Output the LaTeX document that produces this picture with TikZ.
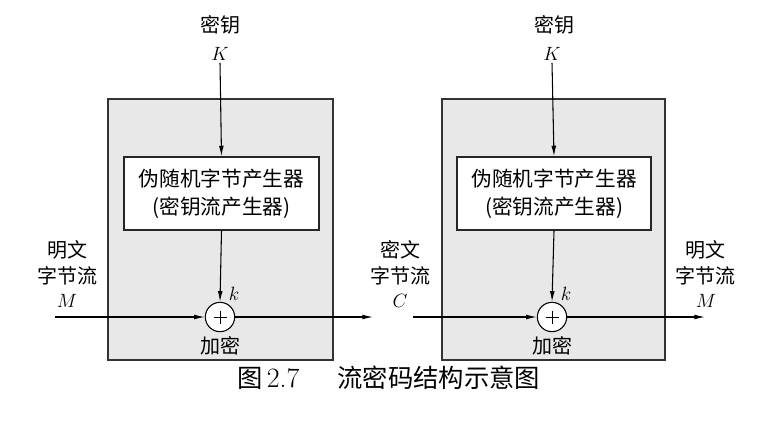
\documentclass[tikz,border=0pt]{standalone}
\usepackage{fontspec}
\newfontfamily\cjk{Noto Sans CJK SC}
\usetikzlibrary{arrows.meta}
\tikzset{
  outerbox/.style={draw=black!80, line width=1pt, fill=black!9, inner sep=0pt},
  innerbox/.style={draw=black!85, line width=0.9pt, fill=white, inner sep=0pt, align=center,
    font=\cjk\fontsize{15.5}{21}\selectfont},
  lbl/.style={font=\cjk\fontsize{15}{20}\selectfont, inner sep=0pt},
  sym/.style={font=\fontsize{15}{18}\selectfont, inner sep=0pt},
  xorc/.style={circle, draw=black, line width=0.8pt, fill=white, minimum size=22pt, inner sep=0pt,
    path picture={\draw[line width=0.5pt] (path picture bounding box.center) +(-6.5,0) -- +(6.5,0)
      (path picture bounding box.center) +(0,-6.5) -- +(0,6.5);}},
  conn/.style={line width=0.8pt, -{Latex[length=8pt,width=3.6pt]}},
}
\begin{document}
\begin{tikzpicture}[x=0.75pt, y=-0.75pt]
\useasboundingbox (0,0) rectangle (778,426);
% ---------- left ----------
\node[outerbox, minimum width=168.75pt, minimum height=195.75pt] (L) at (220.5,229.5) {};
\node[innerbox, minimum width=146.25pt, minimum height=54.75pt] (Lg) at (221.5,193.5)
  {伪随机字节产生器\\(密钥流产生器)};
\node[lbl] (Lkey) at (220,25) {密钥};
\node[sym] (LK) at (220,54) {$K$};
\node[xorc] (Lx) at (220,317) {};
\node[sym] (Lk) at (234,294) {$k$};
\node[lbl] (Lenc) at (220,346) {加密};
\node[lbl] (Lin1) at (67,250) {明文};
\node[lbl] (Lin2) at (67,276) {字节流};
\node[sym] (Lin3) at (67,301) {$M$};
\coordinate (Lstart) at (55,317);
\coordinate (Lend) at (373,317);
\draw[conn] (LK.south) ++(0,2) -- (Lg.north);
\draw[conn] (Lg.south) -- (Lx.north);
\draw[conn] (Lstart) -- (Lx.west);
\draw[conn] (Lx.east) -- (Lend);
% ---------- right ----------
\node[outerbox, minimum width=167.25pt, minimum height=195.75pt] (R) at (553.5,229.5) {};
\node[innerbox, minimum width=145.5pt, minimum height=54.75pt] (Rg) at (554,193.5)
  {伪随机字节产生器\\(密钥流产生器)};
\node[lbl] (Rkey) at (554,25) {密钥};
\node[sym] (RK) at (552,54) {$K$};
\node[xorc] (Rx) at (552,317) {};
\node[sym] (Rk) at (566,294) {$k$};
\node[lbl] (Renc) at (552,346) {加密};
\node[lbl] (Rin1) at (400,250) {密文};
\node[lbl] (Rin2) at (400,276) {字节流};
\node[sym] (Rin3) at (400,301) {$C$};
\node[lbl] (Rout1) at (705,250) {明文};
\node[lbl] (Rout2) at (705,276) {字节流};
\node[sym] (Rout3) at (706,301) {$M$};
\coordinate (Rstart) at (413,317);
\coordinate (Rend) at (705,317);
\draw[conn] (RK.south) ++(0,2) -- (Rg.north);
\draw[conn] (Rg.south) -- (Rx.north);
\draw[conn] (Rstart) -- (Rx.west);
\draw[conn] (Rx.east) -- (Rend);
% ---------- caption ----------
\node[anchor=west, inner sep=0pt, font=\fontsize{19}{22}\selectfont] (cap) at (237,378)
  {{\cjk 图}\,{\fontsize{21}{22}\selectfont 2.7}\hspace{1.5em}{\cjk 流密码结构示意图}};
\end{tikzpicture}
\end{document}
